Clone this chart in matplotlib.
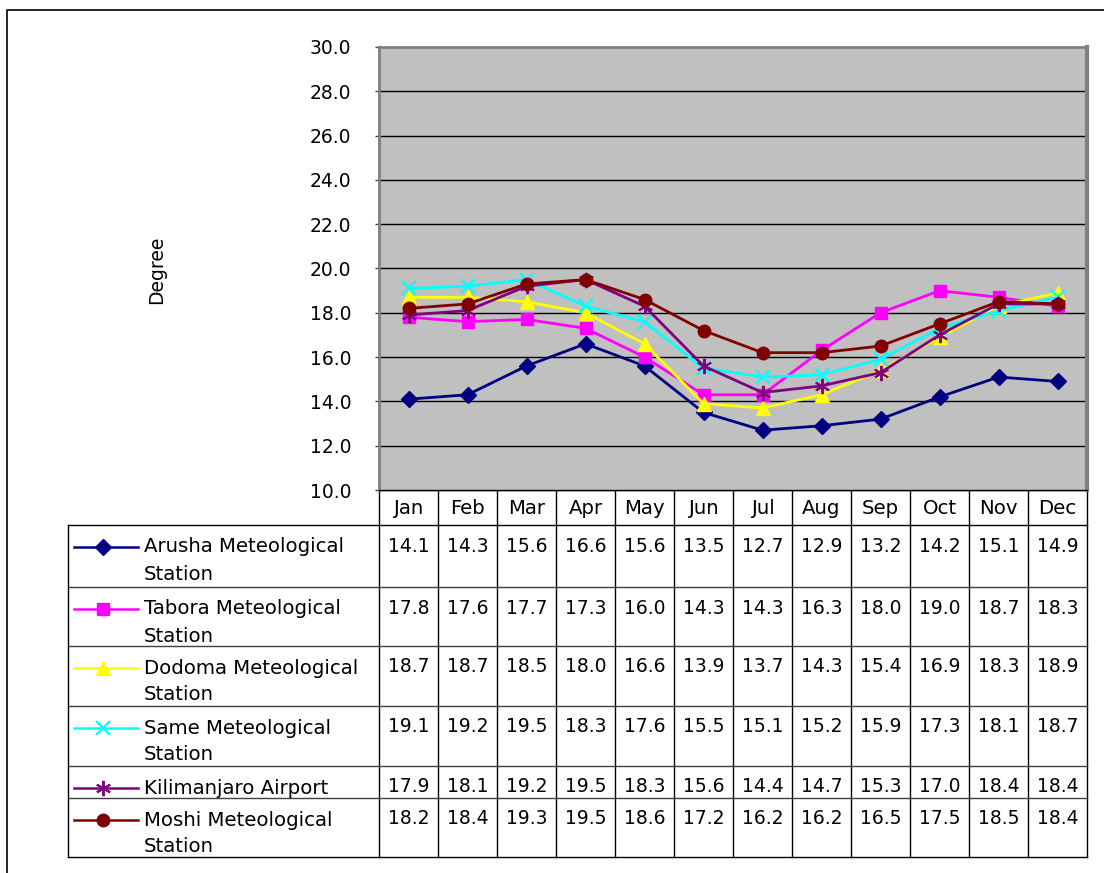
import matplotlib
matplotlib.use("Agg")
import matplotlib.pyplot as plt
from matplotlib.lines import Line2D

months = ["Jan", "Feb", "Mar", "Apr", "May", "Jun",
          "Jul", "Aug", "Sep", "Oct", "Nov", "Dec"]

station_names = [
    "Arusha Meteological\nStation",
    "Tabora Meteological\nStation",
    "Dodoma Meteological\nStation",
    "Same Meteological\nStation",
    "Kilimanjaro Airport",
    "Moshi Meteological\nStation",
]

arusha = [14.1, 14.3, 15.6, 16.6, 15.6, 13.5, 12.7, 12.9, 13.2, 14.2, 15.1, 14.9]
tabora = [17.8, 17.6, 17.7, 17.3, 16.0, 14.3, 14.3, 16.3, 18.0, 19.0, 18.7, 18.3]
dodoma = [18.7, 18.7, 18.5, 18.0, 16.6, 13.9, 13.7, 14.3, 15.4, 16.9, 18.3, 18.9]
same = [19.1, 19.2, 19.5, 18.3, 17.6, 15.5, 15.1, 15.2, 15.9, 17.3, 18.1, 18.7]
kilimanjaro = [17.9, 18.1, 19.2, 19.5, 18.3, 15.6, 14.4, 14.7, 15.3, 17.0, 18.4, 18.4]
moshi = [18.2, 18.4, 19.3, 19.5, 18.6, 17.2, 16.2, 16.2, 16.5, 17.5, 18.5, 18.4]

series = [arusha, tabora, dodoma, same, kilimanjaro, moshi]

y_ticks = [10, 12, 14, 16, 18, 20, 22, 24, 26, 28, 30]

styles = [
    dict(color="#000080", marker="D", markersize=8),
    dict(color="#FF00FF", marker="s", markersize=8.5),
    dict(color="#FFFF00", marker="^", markersize=10.5),
    dict(color="#00FFFF", marker="x", markersize=9.5, markeredgewidth=1.6),
    dict(color="#800080", marker=(6, 2, 0), markersize=11, markeredgewidth=1.4),
    dict(color="#800000", marker="o", markersize=9),
]

W, H = 1104, 873
FONT = "DejaVu Sans"
FS = 13.5
FS_LABEL = 14.2

fig = plt.figure(figsize=(W / 100, H / 100), dpi=100)
fig.patch.set_facecolor("white")

# pixel-coordinate overlay for frame and data table
ov = fig.add_axes([0, 0, 1, 1])
ov.set_xlim(0, W)
ov.set_ylim(H, 0)
ov.axis("off")

# plot area in pixels
PL, PR, PT, PB = 379, 1087, 47, 490

ax = fig.add_axes([PL / W, 1 - PB / H, (PR - PL) / W, (PB - PT) / H])
ax.set_facecolor("#C0C0C0")
ax.set_xlim(-0.5, 11.5)
ax.set_ylim(10, 30)
ax.set_yticks(y_ticks)
ax.set_yticklabels([f"{v:.1f}" for v in y_ticks], fontsize=FS, family=FONT)
ax.tick_params(axis="y", length=3, width=1, color="#404040", pad=17)
ax.set_xticks([])
for v in y_ticks[1:-1]:
    ax.axhline(v, color="black", lw=1.0, zorder=1)
for side in ["left", "top", "right"]:
    ax.spines[side].set_color("#808080")
    ax.spines[side].set_linewidth(2)
ax.spines["bottom"].set_color("black")
ax.spines["bottom"].set_linewidth(1)
ax.spines["right"].set_linewidth(3)

x = list(range(len(months)))
for vals, st in zip(series, styles):
    ax.plot(x, vals, lw=2, zorder=3, **st)

fig.text(157 / W, 1 - 270 / H, "Degree", rotation=90, ha="center", va="center",
         fontsize=FS, family=FONT)

# outer frame
ov.plot([7, 7, W], [H, 10, 10], color="black", lw=1.2)

# data table
col_w = (PR - PL) / 12
row_edges = [525, 587, 646, 706, 766, 798, 857]
TL = 68

ov.plot([PL, PR], [PB, PB], color="black", lw=1)
for i in range(13):
    xc = PL + i * col_w
    ov.plot([xc, xc], [PB, row_edges[-1]], color="black", lw=1)
for k, yv in enumerate(row_edges):
    ov.plot([TL, PR], [yv, yv], color="black" if k in (0, 6) else "#404040", lw=1)
ov.plot([TL, TL], [row_edges[0], row_edges[-1]], color="black", lw=1)

for i, m in enumerate(months):
    ov.text(PL + (i + 0.5) * col_w, (PB + row_edges[0]) / 2 + 1, m,
            ha="center", va="center", fontsize=FS_LABEL, family=FONT)

for r, (name, vals, st) in enumerate(zip(station_names, series, styles)):
    top = row_edges[r]
    ly = top + 22
    ov.add_line(Line2D([74, 103, 138], [ly, ly, ly], lw=1.8, markevery=[1], **st))
    for j, line in enumerate(name.split("\n")):
        ov.text(144, top + 22 + 27 * j, line, ha="left", va="center",
                fontsize=FS_LABEL, family=FONT)
    for i, v in enumerate(vals):
        ov.text(PL + (i + 0.5) * col_w, top + 21, f"{v:.1f}",
                ha="center", va="center", fontsize=FS, family=FONT)

fig.savefig("out.png", dpi=100)
